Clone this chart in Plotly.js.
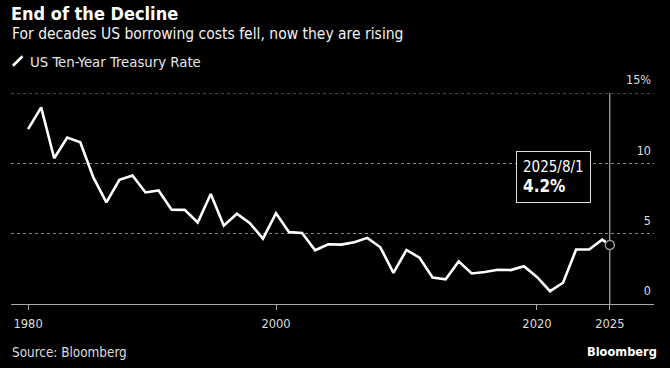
<!DOCTYPE html>
<html>
<head>
<meta charset="utf-8">
<script src="https://cdn.plot.ly/plotly-3.0.1.min.js"></script>
<style>
html,body{margin:0;padding:0;background:#000;}
#chart{width:670px;height:368px;}
</style>
</head>
<body>
<div id="chart"></div>
<script>
// Year-end US 10-year Treasury yields (%), plus latest reading
const dates = [
  '1980-12-31','1981-12-31','1982-12-31','1983-12-31','1984-12-31','1985-12-31','1986-12-31','1987-12-31','1988-12-31','1989-12-31',
  '1990-12-31','1991-12-31','1992-12-31','1993-12-31','1994-12-31','1995-12-31','1996-12-31','1997-12-31','1998-12-31','1999-12-31',
  '2000-12-31','2001-12-31','2002-12-31','2003-12-31','2004-12-31','2005-12-31','2006-12-31','2007-12-31','2008-12-31','2009-12-31',
  '2010-12-31','2011-12-31','2012-12-31','2013-12-31','2014-12-31','2015-12-31','2016-12-31','2017-12-31','2018-12-31','2019-12-31',
  '2020-12-31','2021-12-31','2022-12-31','2023-12-31','2024-12-31','2025-08-01'
];
const rates = [
  12.43,13.98,10.36,11.83,11.50,9.00,7.23,8.83,9.14,7.93,
  8.07,6.70,6.69,5.79,7.82,5.57,6.42,5.74,4.65,6.45,
  5.11,5.05,3.82,4.25,4.22,4.39,4.70,4.03,2.21,3.84,
  3.29,1.88,1.76,3.03,2.17,2.27,2.44,2.41,2.68,1.92,
  0.91,1.51,3.87,3.88,4.57,4.20
];
const xTickVals = ['1980-12-31','2000-01-01','2020-01-01','2025-08-01'];
const xTickText = ['1980','2000','2020','2025'];
const yTickVals = [0,5,10,15];
const yTickText = ['0','5','10','15%'];
const lastDate = dates[dates.length-1];
const lastRate = rates[rates.length-1];

const FONT = '"DejaVu Sans Condensed", "DejaVu Sans", sans-serif';

// plot area in pixels
const L = 11, R = 654, T = 93.3, B = 304.5;
const YMAX = 15;
const px = x => (x - L) / (R - L);
const py = y => (B - y) / (B - T);

const traces = [
  {x: dates, y: rates, type: 'scatter', mode: 'lines',
   line: {color: '#ffffff', width: 2.6}, hoverinfo: 'skip', showlegend: false},
  {x: [lastDate], y: [lastRate], type: 'scatter', mode: 'markers',
   marker: {size: 9, color: '#000', line: {color: '#9a9a9a', width: 1.5}},
   hoverinfo: 'skip', showlegend: false}
];

const layout = {
  width: 670, height: 368,
  paper_bgcolor: '#000', plot_bgcolor: '#000',
  margin: {l: L, r: 670 - R, t: T, b: 368 - B},
  font: {family: FONT, color: '#dddddd'},
  title: {text: 'End of the Decline', x: 11/670, xanchor: 'left', xref: 'container',
          y: 1 - 14/368, yanchor: 'middle', yref: 'container',
          font: {family: FONT, size: 18, color: '#ffffff', weight: 'bold'}},
  xaxis: {
    type: 'date', range: ['1979-09-09', '2028-12-20'],
    tickvals: xTickVals, ticktext: xTickText,
    ticks: 'outside', ticklen: 5, tickcolor: '#aaaaaa', tickwidth: 1,
    ticklabelstandoff: 3,
    showline: true, linecolor: '#aaaaaa', linewidth: 1,
    showgrid: false, zeroline: false,
    tickfont: {family: FONT, size: 12.8, color: '#dddddd'}
  },
  yaxis: {
    range: [0, YMAX], side: 'right',
    tickvals: yTickVals, ticktext: yTickText,
    ticklabelposition: 'inside', ticklabelshift: -13, ticklabelstandoff: 0,
    ticklabeloverflow: 'allow',
    ticks: '', showline: false, zeroline: false,
    showgrid: true, gridcolor: '#8a8a8a', griddash: 'dot', gridwidth: 1,
    tickfont: {family: FONT, size: 12.5, color: '#dddddd'}
  },
  shapes: [
    {type: 'line', xref: 'paper', yref: 'y', x0: 0, x1: 1, y0: 15, y1: 15,
     line: {color: '#8a8a8a', width: 1, dash: 'dot'}, layer: 'below'},
    {type: 'line', xref: 'x', yref: 'y', x0: lastDate, x1: lastDate, y0: 0, y1: 15,
     line: {color: '#cccccc', width: 1}, layer: 'below'},
    {type: 'line', xref: 'paper', yref: 'paper', x0: px(13), y0: py(66), x1: px(22.5), y1: py(56.5),
     line: {color: '#ffffff', width: 2.6}}
  ],
  annotations: [
    {text: 'For decades US borrowing costs fell, now they are rising', xref: 'paper', yref: 'paper',
     x: px(10), y: py(34), xanchor: 'left', yanchor: 'middle', showarrow: false,
     font: {family: FONT, size: 15.5, color: '#f2f2f2'}},
    {text: 'US Ten-Year Treasury Rate', xref: 'paper', yref: 'paper',
     x: px(28), y: py(61.5), xanchor: 'left', yanchor: 'middle', showarrow: false,
     font: {family: FONT, size: 14.8, color: '#e6e6e6'}},
    {text: '2025/8/1<br><span style="font-size:17px;font-weight:bold">4.2%</span>',
     xref: 'paper', yref: 'paper', x: px(516), y: py(151), xanchor: 'left', yanchor: 'top',
     align: 'left', showarrow: false, bgcolor: '#000', bordercolor: '#dddddd', borderwidth: 1,
     borderpad: 6, width: 61, height: 38,
     font: {family: FONT, size: 15, color: '#ffffff'}},
    {text: 'Source: Bloomberg', xref: 'paper', yref: 'paper',
     x: px(10), y: py(353.3), xanchor: 'left', yanchor: 'middle', showarrow: false,
     font: {family: FONT, size: 13.4, color: '#dddddd'}},
    {text: '<b>Bloomberg</b>', xref: 'paper', yref: 'paper',
     x: px(659), y: py(352), xanchor: 'right', yanchor: 'middle', showarrow: false,
     font: {family: FONT, size: 12.7, color: '#ffffff'}}
  ]
};

Plotly.newPlot('chart', traces, layout, {displayModeBar: false, staticPlot: true});
</script>
</body>
</html>
